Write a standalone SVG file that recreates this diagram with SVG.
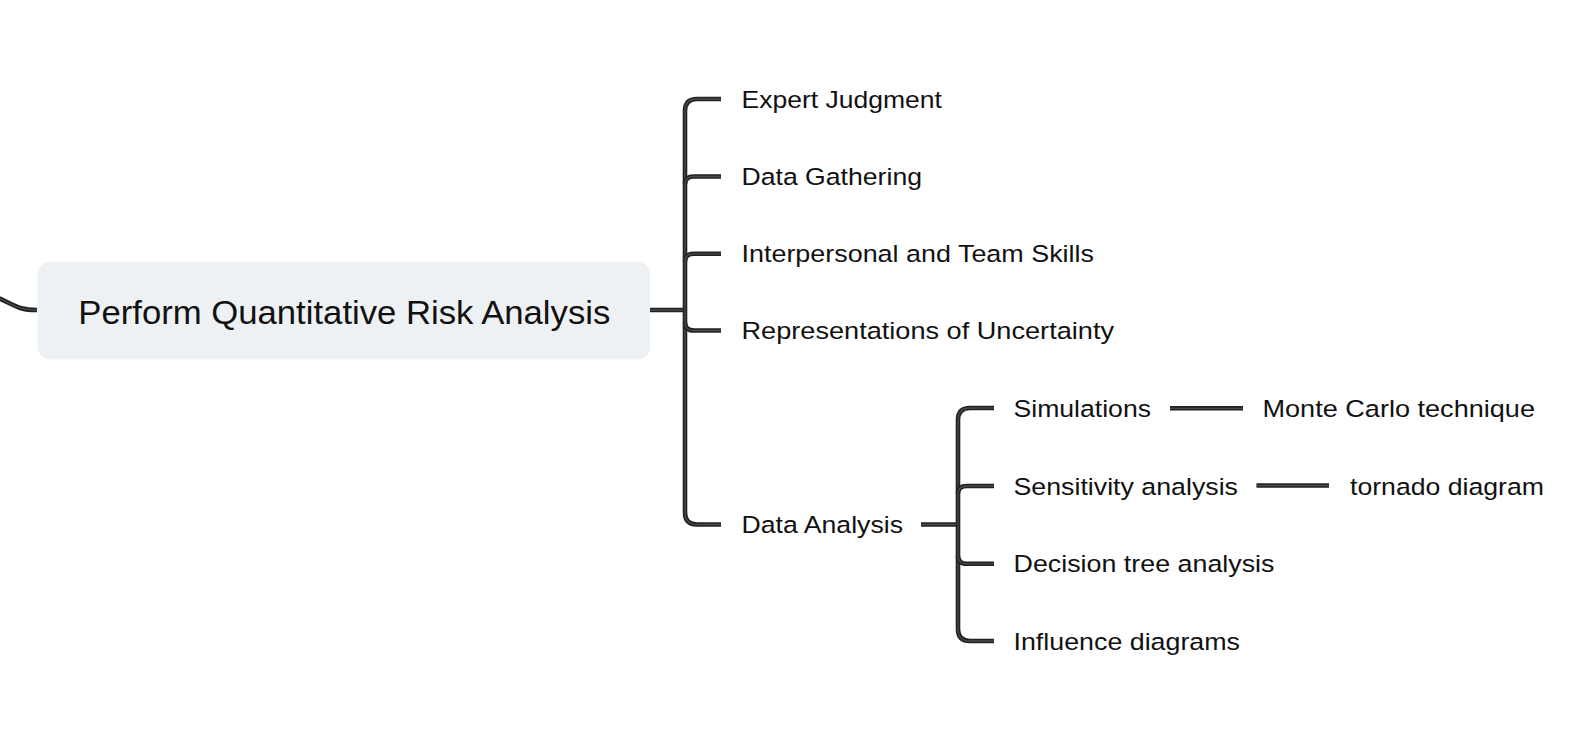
<svg xmlns="http://www.w3.org/2000/svg" xmlns:xlink="http://www.w3.org/1999/xlink" width="1584" height="752" viewBox="0 0 1584 752">
<style>
.bg{fill:#ffffff}
.out{fill:none;stroke:#222222;stroke-width:4.6;stroke-linecap:butt;stroke-linejoin:round}
.in{fill:none;stroke:#4a4a4a;stroke-width:1.3;stroke-linecap:butt;stroke-linejoin:round}
.root{fill:#eef1f4}
.t{font-family:"Liberation Sans",Arial,sans-serif;font-size:24.5px;fill:#111111}
.tm{font-family:"Liberation Sans",Arial,sans-serif;font-size:32.5px;fill:#111111}
</style>
<defs>
<path id="p0" d="M -10 295 C 12 302, 14 310, 37 310"/>
<path id="p1" d="M 650 310 L 685 310"/>
<path id="p2" d="M 721 99 L 697 99 Q 685 99 685 111 L 685 512.5 Q 685 524.5 697 524.5 L 721 524.5"/>
<path id="p3" d="M 685 184 Q 685 176.5 694 176.5 L 721 176.5"/>
<path id="p4" d="M 685 261.5 Q 685 253.8 694 253.8 L 721 253.8"/>
<path id="p5" d="M 685 322.5 Q 685 330.5 694 330.5 L 721 330.5"/>
<path id="p6" d="M 921 524.5 L 958 524.5"/>
<path id="p7" d="M 994 408 L 970 408 Q 958 408 958 420 L 958 629 Q 958 641 970 641 L 994 641"/>
<path id="p8" d="M 958 493.5 Q 958 486 967 486 L 994 486"/>
<path id="p9" d="M 958 556 Q 958 563.8 967 563.8 L 994 563.8"/>
<path id="p10" d="M 1170 408.3 L 1243 408.3"/>
<path id="p11" d="M 1256.5 485.5 L 1329 485.5"/>
</defs>
<rect class="bg" x="0" y="0" width="1584" height="752"/>
<g id="connectors">
<use xlink:href="#p0" class="out"/><use xlink:href="#p0" class="in"/>
<use xlink:href="#p1" class="out"/><use xlink:href="#p1" class="in"/>
<use xlink:href="#p2" class="out"/><use xlink:href="#p2" class="in"/>
<use xlink:href="#p3" class="out"/><use xlink:href="#p3" class="in"/>
<use xlink:href="#p4" class="out"/><use xlink:href="#p4" class="in"/>
<use xlink:href="#p5" class="out"/><use xlink:href="#p5" class="in"/>
<use xlink:href="#p6" class="out"/><use xlink:href="#p6" class="in"/>
<use xlink:href="#p7" class="out"/><use xlink:href="#p7" class="in"/>
<use xlink:href="#p8" class="out"/><use xlink:href="#p8" class="in"/>
<use xlink:href="#p9" class="out"/><use xlink:href="#p9" class="in"/>
<use xlink:href="#p10" class="out"/><use xlink:href="#p10" class="in"/>
<use xlink:href="#p11" class="out"/><use xlink:href="#p11" class="in"/>
</g>
<g id="root">
<rect class="root" x="37.5" y="261.5" width="612.5" height="98" rx="13"/>
<text class="tm" x="78.3" y="323.5" textLength="532" lengthAdjust="spacingAndGlyphs">Perform Quantitative Risk Analysis</text>
</g>
<g id="n-expert"><text class="t" x="741.5" y="107.5" textLength="200.5" lengthAdjust="spacingAndGlyphs">Expert Judgment</text></g>
<g id="n-gathering"><text class="t" x="741.5" y="185" textLength="180.5" lengthAdjust="spacingAndGlyphs">Data Gathering</text></g>
<g id="n-interpersonal"><text class="t" x="741.5" y="262.3" textLength="352.5" lengthAdjust="spacingAndGlyphs">Interpersonal and Team Skills</text></g>
<g id="n-representations"><text class="t" x="741.5" y="339" textLength="372.5" lengthAdjust="spacingAndGlyphs">Representations of Uncertainty</text></g>
<g id="n-analysis"><text class="t" x="741.5" y="533" textLength="161.5" lengthAdjust="spacingAndGlyphs">Data Analysis</text></g>
<g id="n-simulations"><text class="t" x="1013.5" y="416.5" textLength="137.5" lengthAdjust="spacingAndGlyphs">Simulations</text></g>
<g id="n-sensitivity"><text class="t" x="1013.5" y="494.5" textLength="224.5" lengthAdjust="spacingAndGlyphs">Sensitivity analysis</text></g>
<g id="n-decision"><text class="t" x="1013.5" y="572.3" textLength="261" lengthAdjust="spacingAndGlyphs">Decision tree analysis</text></g>
<g id="n-influence"><text class="t" x="1013.5" y="649.5" textLength="226.5" lengthAdjust="spacingAndGlyphs">Influence diagrams</text></g>
<g id="n-montecarlo"><text class="t" x="1262.5" y="416.5" textLength="272.5" lengthAdjust="spacingAndGlyphs">Monte Carlo technique</text></g>
<g id="n-tornado"><text class="t" x="1350" y="494.5" textLength="194" lengthAdjust="spacingAndGlyphs">tornado diagram</text></g>
</svg>
